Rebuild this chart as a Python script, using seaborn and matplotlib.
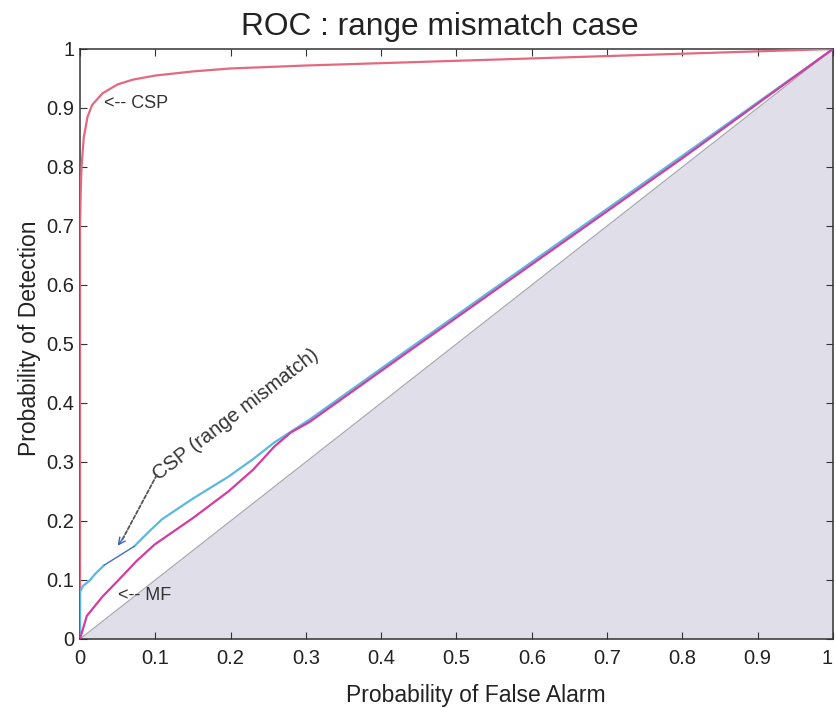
import numpy as np
import pandas as pd
import matplotlib
matplotlib.use("Agg")
import matplotlib.pyplot as plt
import seaborn as sns

# ROC curves: probability of false alarm (pfa) vs probability of detection (pd)
csp_pfa = [0.0, 0.0, 0.001, 0.002, 0.005, 0.010, 0.016, 0.030, 0.050, 0.070,
           0.100, 0.150, 0.200, 0.300, 0.400, 0.500, 0.600, 0.700, 0.800, 0.900, 1.0]
csp_pd = [0.0, 0.70, 0.76, 0.80, 0.85, 0.885, 0.905, 0.925, 0.940, 0.948,
          0.955, 0.962, 0.967, 0.972, 0.976, 0.980, 0.984, 0.988, 0.992, 0.996, 1.0]

mis_pfa = [0.0, 0.0, 0.004, 0.012, 0.020, 0.032, 0.072, 0.090, 0.109, 0.150,
           0.197, 0.230, 0.258, 0.305, 0.426, 0.600, 0.800, 1.0]
mis_pd = [0.0, 0.080, 0.090, 0.098, 0.110, 0.125, 0.157, 0.180, 0.203, 0.238,
          0.275, 0.305, 0.333, 0.372, 0.482, 0.639, 0.819, 1.0]
# the mismatch curve is drawn thin between these two point indices
mis_thin = (5, 6)

mf_pfa = [0.0, 0.009, 0.030, 0.052, 0.075, 0.099, 0.150, 0.197, 0.230, 0.258,
          0.280, 0.305, 0.426, 0.600, 0.800, 1.0]
mf_pd = [0.0, 0.039, 0.072, 0.101, 0.132, 0.160, 0.205, 0.250, 0.287, 0.326,
         0.350, 0.368, 0.478, 0.635, 0.815, 1.0]

chance = [0.0, 1.0]
tick_vals = [0.0, 0.1, 0.2, 0.3, 0.4, 0.5, 0.6, 0.7, 0.8, 0.9, 1.0]
tick_labels = ["0", "0.1", "0.2", "0.3", "0.4", "0.5", "0.6", "0.7", "0.8", "0.9", "1"]

a, b = mis_thin
mis_df = pd.concat([
    pd.DataFrame({"pfa": mis_pfa[:a + 1], "pd": mis_pd[:a + 1], "seg": 0}),
    pd.DataFrame({"pfa": mis_pfa[b:], "pd": mis_pd[b:], "seg": 1}),
])
mis_df["curve"] = "CSP (range mismatch)"
thin_df = pd.DataFrame({"pfa": mis_pfa[a:b + 1], "pd": mis_pd[a:b + 1]})

df = pd.concat([
    pd.DataFrame({"pfa": csp_pfa, "pd": csp_pd, "seg": 0, "curve": "CSP"}),
    mis_df,
    pd.DataFrame({"pfa": mf_pfa, "pd": mf_pd, "seg": 0, "curve": "MF"}),
], ignore_index=True)
df["unit"] = df["curve"] + df["seg"].astype(str)

sns.set_style("ticks")
plt.rcParams["font.family"] = ["Liberation Sans", "DejaVu Sans"]

fig = plt.figure(figsize=(8.36, 7.08), dpi=100)
ax = fig.add_axes([0.0957, 0.0975, 0.9007, 0.8333])

# chance region below the diagonal
ax.fill_between(chance, chance, 0, color="#e0dee9", lw=0, zorder=0)
ax.plot(chance, chance, color="#a8a8b0", lw=0.9, zorder=1)

palette = {"CSP": "#e4687f", "CSP (range mismatch)": "#5bb8e2", "MF": "#d43c9e"}
sns.lineplot(data=df, x="pfa", y="pd", hue="curve", units="unit", palette=palette,
             sort=False, estimator=None, lw=1.6, legend=False, ax=ax, zorder=3)
sns.lineplot(data=thin_df, x="pfa", y="pd", color="#3f6fc0", sort=False,
             estimator=None, lw=1.0, ax=ax, zorder=3)

ax.set_xlim(0, 1)
ax.set_ylim(0, 1)
ax.set_xticks(tick_vals)
ax.set_xticklabels(tick_labels)
ax.set_yticks(tick_vals)
ax.set_yticklabels(tick_labels)
ax.get_xticklabels()[-1].set_horizontalalignment("right")
ax.tick_params(direction="in", length=5, width=0.8, labelsize=14.5, colors="#333333",
               labelcolor="#222222", top=True, right=True)
ax.tick_params(axis="y", pad=4)
ax.tick_params(axis="x", pad=7)
for s in ax.spines.values():
    s.set_color("#333333")
    s.set_linewidth(1.1)

ax.set_xlabel("Probability of False Alarm", fontsize=16.5, labelpad=12,
              color="#222222", x=0.526)
ax.set_ylabel("Probability of Detection", fontsize=16.5, labelpad=4,
              color="#222222", y=0.51)
ax.set_title("ROC : range mismatch case", fontsize=22.8, pad=10,
             color="#222222", x=0.478)

# curve labels
ax.text(0.032, 0.908, "<-- CSP", fontsize=13, va="center", ha="left", color="#333333")
ax.text(0.050, 0.073, "<-- MF", fontsize=13, va="center", ha="left", color="#333333")
ax.text(0.108, 0.262, "CSP (range mismatch)", fontsize=14.5, rotation=37.5,
        rotation_mode="anchor", ha="left", va="bottom", color="#333333")
ax.annotate("", xy=(0.056, 0.168), xytext=(0.102, 0.278),
            arrowprops=dict(arrowstyle="-", linestyle=(0, (2, 1.2)), color="#555555",
                            lw=1.3, shrinkA=0, shrinkB=0))
ax.annotate("", xy=(0.050, 0.158), xytext=(0.058, 0.172),
            arrowprops=dict(arrowstyle="->", color="#4060b0", lw=1.0,
                            mutation_scale=12, shrinkA=0, shrinkB=0))

fig.savefig("out.png", dpi=100)
